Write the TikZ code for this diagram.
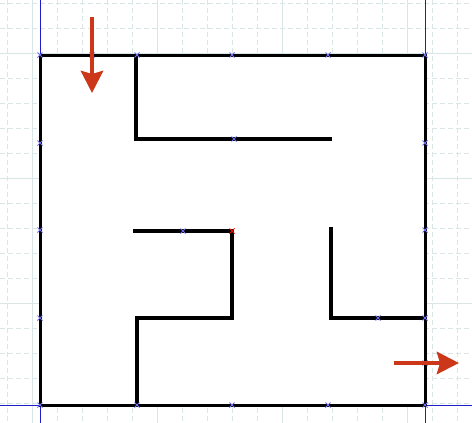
\documentclass[tikz,border=0pt]{standalone}
\usetikzlibrary{arrows.meta}

\definecolor{gridgrey}{RGB}{218,230,230}
\definecolor{axisblue}{RGB}{30,30,200}
\definecolor{crossblue}{RGB}{110,110,235}
\definecolor{arrowred}{RGB}{205,55,25}

\begin{document}
\begin{tikzpicture}[x=1pt,y=-1pt,
  minorline/.style={gridgrey,line width=1pt,dash pattern=on 5pt off 3pt},
  majorline/.style={gridgrey,line width=1pt},
  axisline/.style={axisblue,line width=1pt},
  wall/.style={black,line width=3.5pt},
  outerwall/.style={black,line width=3pt},
  crossline/.style={crossblue,line width=0.9pt},
  redarrow/.style={arrowred,line width=4.5pt,-{Stealth[width=22pt,length=22pt,inset=3pt]}}]
  \useasboundingbox (0,0) rectangle (472,423);
  % grid
  \foreach \gx in {7,32,...,457} \draw[minorline] (\gx,0) -- (\gx,423);
  \foreach \gy in {3,28,...,403} \draw[minorline] (0,\gy) -- (472,\gy);
  \foreach \gx in {32,157,282,407} \draw[majorline] (\gx,0) -- (\gx,423);
  \foreach \gy in {53,178,303} \draw[majorline] (0,\gy) -- (472,\gy);
  \fill[white] (40,55) rectangle (425,405);
  % axes
  \draw[axisline] (40,0) -- (40,423);
  \draw[axisline] (425,0) -- (425,423);
  \draw[axisline] (0,405) -- (472,405);
  % maze walls
  \draw[outerwall] (40,55) rectangle (425,405);
  \draw[wall] (136,55) -- (136,139) -- (332,139);
  \draw[wall] (133,231) -- (232,231) -- (232,318) -- (137,318) -- (137,405);
  \draw[wall] (331,227) -- (331,318) -- (425,318);
  % vertex marks
  \foreach \cx/\cy in {40/55,92/55,137/55,232/55,328/55,425/55,
                        40/143,40/230,40/318,40/405,
                        137/405,232/405,328/405,425/405,
                        425/143,425/230,425/318,425/363,
                        234/139,183/231,378/318}
    \draw[crossline] (\cx-2.5,\cy-2.5) -- (\cx+2.5,\cy+2.5)
                     (\cx-2.5,\cy+2.5) -- (\cx+2.5,\cy-2.5);
  \draw[red,line width=0.9pt] (229.5,228.5) -- (234.5,233.5)
                              (229.5,233.5) -- (234.5,228.5);
  % entry and exit
  \coordinate (entryA) at (92,17);
  \coordinate (entryB) at (92,93);
  \coordinate (exitA) at (394,363);
  \coordinate (exitB) at (459,363);
  \draw[redarrow] (entryA) -- (entryB);
  \draw[redarrow] (exitA) -- (exitB);
\end{tikzpicture}
\end{document}
